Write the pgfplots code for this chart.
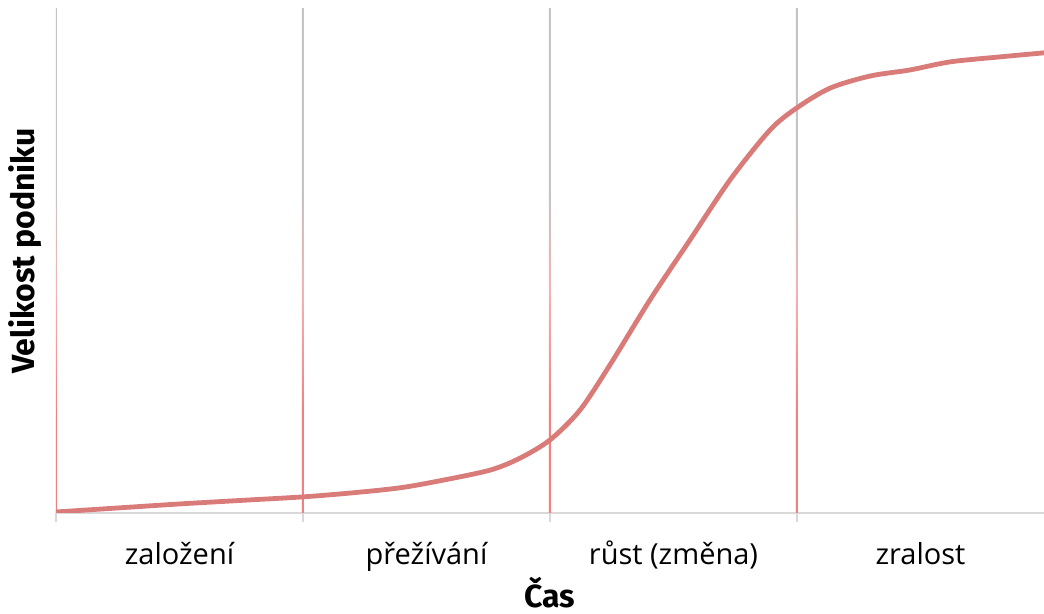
\documentclass[border=0pt]{standalone}
\usepackage{pgfplots}
\pgfplotsset{compat=1.18}
\usepackage{fontspec}
\setmainfont{Open Sans}
\newfontfamily\labfont{Fira Sans}
\definecolor{curve}{RGB}{217,123,120}
\definecolor{gridgray}{RGB}{196,196,196}
\definecolor{gridpink}{RGB}{245,178,178}
\definecolor{gridred}{RGB}{242,128,128}
\definecolor{axisgray}{RGB}{217,217,217}
\pgfdeclareverticalshading{gridfade}{100bp}{color(0bp)=(gridred); color(25bp)=(gridred); color(35bp)=(gridred); color(47bp)=(gridpink); color(57bp)=(gridgray); color(75bp)=(gridgray); color(100bp)=(gridgray)}
\pgfplotstableread{
x y
0.000 0.002
0.250 0.010
0.502 0.018
0.750 0.025
1.000 0.032
1.200 0.040
1.393 0.050
1.555 0.064
1.757 0.085
1.879 0.109
2.000 0.145
2.121 0.204
2.243 0.294
2.405 0.423
2.567 0.542
2.729 0.661
2.891 0.760
3.000 0.804
3.134 0.843
3.296 0.867
3.457 0.879
3.619 0.895
3.822 0.905
4.000 0.913
}\curvedata
\begin{document}
\begin{tikzpicture}
\useasboundingbox (-28pt,-50.5pt) rectangle (494pt,256.5pt);
\begin{axis}[
  at={(0,0)}, anchor=origin,
  scale only axis,
  width=494pt, height=252pt,
  xmin=0, xmax=4, ymin=0, ymax=1,
  axis x line=bottom,
  axis y line=left,
  y axis line style={draw=none},
  x axis line style={axisgray, line width=1pt, -},
  xtick={0.5,1.5,2.5,3.5},
  xticklabels={založení,přežívání,růst (změna),zralost},
  major tick length=0pt,
  xticklabel style={font=\fontsize{14.5}{17}\selectfont, anchor=base, yshift=-26pt, text=black},
  extra x ticks={0,1,2,3},
  extra x tick labels={},
  extra x tick style={major tick length=4.5pt, tick align=outside, tick style={axisgray, line width=1pt}},
  ytick=\empty,
  xlabel={Čas},
  xlabel style={at={([yshift=-47.5pt]axis description cs:0.5,0)}, anchor=base, font=\labfont\bfseries\fontsize{16}{19}\selectfont},
  ylabel={Velikost podniku},
  ylabel style={at={([xshift=-15.5pt]axis description cs:0,0.52)}, anchor=center, font=\labfont\bfseries\fontsize{16}{19}\selectfont},
  clip=true,
]
\pgfplotsinvokeforeach{0,1,2,3}{
  \shade[shading=gridfade] ([xshift=-0.5pt]axis cs:#1,0) rectangle ([xshift=0.5pt]axis cs:#1,1);
}
\addplot[curve, line width=2.4pt, smooth, tension=0.5] table[x=x,y=y] {\curvedata};
\end{axis}
\end{tikzpicture}
\end{document}
